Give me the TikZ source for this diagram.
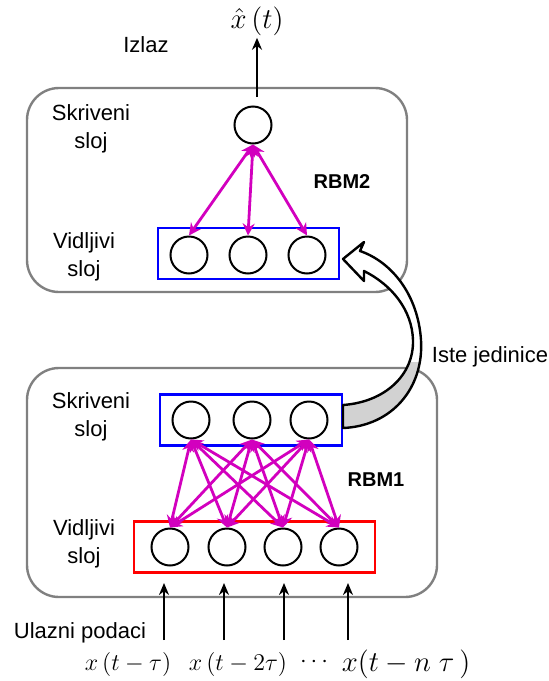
\documentclass[tikz,border=0pt]{standalone}
\usepackage{fontspec}
\setmainfont{Liberation Sans}
\usetikzlibrary{arrows.meta}
\definecolor{enlacecolor}{RGB}{210,0,190}

\begin{document}
\begin{tikzpicture}[x=0.5pt,y=-0.5pt,
    neurona/.style={circle,draw,line width=1pt,minimum size=18.5pt,inner sep=0pt},
    capa/.style={draw=#1,line width=1.4pt,inner sep=0pt,minimum height=25.5pt},
    rbm/.style={draw=gray,line width=1.2pt,rounded corners=16pt},
    enlace/.style={enlacecolor,line width=1.4pt,{Stealth[length=6pt,width=6pt]}-{Stealth[length=6pt,width=6pt]}},
    entrada/.style={line width=1.4pt,-{Stealth[length=6pt,width=5pt]}},
    texto/.style={font=\fontsize{11}{14}\selectfont,align=center},
    etiqueta/.style={font=\fontsize{10}{12}\selectfont\bfseries},
    formula/.style={font=\fontsize{#1}{16}\selectfont,inner sep=1pt},
    formula/.default=12]
    \useasboundingbox (0,0) rectangle (549,681);

    % Cajas RBM
    \draw[rbm] (27,88) rectangle (407,292);
    \draw[rbm] (27,368) rectangle (437,597);

    % Capas
    \node[capa=blue,minimum width=90.5pt] (capaA) at (248.5,253.5) {};
    \node[capa=blue,minimum width=91pt] (capaB) at (251,420) {};
    \node[capa=red,minimum width=120.5pt] (capaC) at (254.5,547) {};

    % Neuronas
    \node[neurona] (skrA) at (253,125) {};
    \foreach \x [count=\i] in {189,248,307}
        \node[neurona] (vidA\i) at (\x,255) {};
    \foreach \x [count=\i] in {191,252,309}
        \node[neurona] (skrB\i) at (\x,420) {};
    \foreach \x [count=\i] in {170,227,283,339}
        \node[neurona] (vidB\i) at (\x,547) {};

    % Conexiones
    \foreach \v in {1,2,3}
        \draw[enlace] (skrA.south) -- (vidA\v.north);
    \foreach \s in {1,2,3}
        \foreach \v in {1,2,3,4}
            \draw[enlace] (skrB\s.south) -- (vidB\v.north);

    % Textos
    \node[texto] (izlaz) at (146,45) {Izlaz};
    \node[texto] (skrTxtA) at (91,129) {Skriveni\\sloj};
    \node[texto] (vidTxtA) at (84,257) {Vidljivi\\sloj};
    \node[texto] (skrTxtB) at (91,417) {Skriveni\\sloj};
    \node[texto] (vidTxtB) at (84,544) {Vidljivi\\sloj};
    \node[texto] (ulaz) at (80,633) {Ulazni podaci};
    \node[texto] (iste) at (490,357) {Iste jedinice};
    \node[etiqueta] (rbmA) at (342,182) {RBM2};
    \node[etiqueta] (rbmB) at (376,480) {RBM1};

    % Salida
    \node[formula=14] (salida) at (257,21) {$\hat{x}\,(t)$};
    \coordinate (salInicio) at (257,97);
    \draw[entrada] (salInicio) -- (salida);

    % Entradas
    \node[formula] (x1) at (128,664) {$x\,(t-\tau)$};
    \node[formula] (x2) at (238,664) {$x\,(t-2\tau)$};
    \node[formula=13] (puntos) at (314,662) {$\cdots$};
    \node[formula=13.5] (x3) at (406,664) {$x(t-n\;\tau\,)$};
    \foreach \x [count=\i] in {164,224,284,348} {
        \coordinate (ini\i) at (\x,640);
        \coordinate (fin\i) at (\x,583);
        \draw[entrada] (ini\i) -- (fin\i);
    }

    % Flecha curva
    \def\cinta{(343,428) .. controls (392,426) and (424,388) .. (421,340)
        .. controls (418,295) and (392,262) .. (360,251) -- (364,242)
        -- (343,259) -- (364,281) -- (364,271)
        .. controls (392,285) and (412,310) .. (413,340)
        .. controls (414,375) and (385,402) .. (343,405) -- cycle}
    \fill[white] \cinta;
    \begin{scope}
        \clip (330,362) rectangle (440,440);
        \fill[gray!35] \cinta;
    \end{scope}
    \draw[line width=1.2pt,line join=round] \cinta;
\end{tikzpicture}
\end{document}
